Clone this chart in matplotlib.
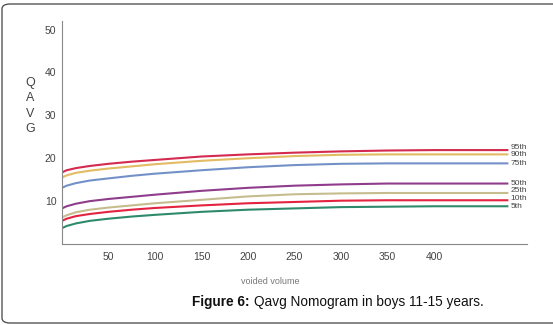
import matplotlib.pyplot as plt
from matplotlib.patches import FancyBboxPatch

volume = [0, 5, 15, 30, 50, 75, 100, 150, 200, 250, 300, 350, 400, 450, 480]

p95 = [16.7, 17.2, 17.7, 18.2, 18.7, 19.2, 19.6, 20.4, 20.9, 21.3, 21.6, 21.8, 21.9, 21.9, 21.9]
p90 = [15.5, 16.0, 16.6, 17.1, 17.6, 18.1, 18.6, 19.4, 20.0, 20.5, 20.8, 20.9, 20.9, 20.9, 20.9]
p75 = [13.1, 13.6, 14.2, 14.8, 15.3, 15.9, 16.4, 17.2, 17.9, 18.4, 18.7, 18.8, 18.8, 18.8, 18.8]
p50 = [8.3, 8.8, 9.4, 10.0, 10.5, 11.0, 11.5, 12.4, 13.1, 13.6, 13.9, 14.1, 14.1, 14.1, 14.1]
p25 = [6.2, 6.7, 7.4, 8.0, 8.5, 9.0, 9.5, 10.3, 11.1, 11.6, 11.8, 11.9, 11.9, 11.9, 11.9]
p10 = [5.4, 5.9, 6.5, 7.0, 7.5, 8.0, 8.4, 9.0, 9.5, 9.8, 10.1, 10.2, 10.2, 10.2, 10.2]
p5 = [3.7, 4.2, 4.8, 5.4, 5.9, 6.4, 6.8, 7.5, 8.0, 8.3, 8.6, 8.7, 8.8, 8.8, 8.8]

labels = ["95th", "90th", "75th", "50th", "25th", "10th", "5th"]
series = [p95, p90, p75, p50, p25, p10, p5]
colors = ["#d42a4f", "#e2bb62", "#7391c8", "#8f3c8c", "#c6bd8e", "#e3233f", "#2f8a6c"]

x_ticks = [50, 100, 150, 200, 250, 300, 350, 400]
y_ticks = [10, 20, 30, 40, 50]

plt.rcParams["font.family"] = ["Liberation Sans", "DejaVu Sans"]

fig = plt.figure(figsize=(5.53, 3.25), dpi=100)

# rounded frame around the whole figure
frame = FancyBboxPatch((2 / 553, 2 / 325), 560 / 553, 319 / 325,
                       boxstyle="round,pad=0,rounding_size=0.015",
                       transform=fig.transFigure, fill=False,
                       ec="#555555", lw=1.0, clip_on=False)
fig.patches.append(frame)

ax = fig.add_axes([62 / 553, 81 / 325, 465 / 553, 223 / 325])

for y, c in zip(series, colors):
    ax.plot(volume, y, color=c, lw=1.5, solid_capstyle="butt")

# end labels, nudged apart a little like in the original
nudge = [0.5, 0.0, -0.1, 0.1, 0.5, 0.3, -0.1]
for lab, y, d in zip(labels, series, nudge):
    ax.text(482, y[-1] + d, lab, fontsize=6, color="#444444",
            va="center", ha="left")

ax.set_xlim(0, 500)
ax.set_ylim(0, 52)
ax.set_xticks(x_ticks)
ax.set_yticks(y_ticks)
ax.tick_params(length=0, labelsize=7.5, labelcolor="#444444")
ax.tick_params(axis="x", pad=6)
ax.tick_params(axis="y", pad=4)

ax.spines["top"].set_visible(False)
ax.spines["right"].set_visible(False)
ax.spines["left"].set_color("#888888")
ax.spines["bottom"].set_color("#888888")

fig.text(30 / 553, 1 - 106 / 325, "Q\nA\nV\nG", ha="center", va="center",
         fontsize=9, color="#444444", linespacing=1.35)
fig.text(270 / 553, 1 - 282 / 325, "voided volume", ha="center", va="center",
         fontsize=6.5, color="#777777")

cap1 = fig.text(192 / 553, 1 - 302 / 325, "Figure 6:", ha="left", va="center",
                fontsize=9.8, fontweight="bold", color="#111111")
renderer = fig.canvas.get_renderer()
bb = cap1.get_window_extent(renderer).transformed(fig.transFigure.inverted())
fig.text(bb.x1 + 4 / 553, 1 - 302 / 325, "Qavg Nomogram in boys 11-15 years.",
         ha="left", va="center", fontsize=9.8, color="#111111")

fig.savefig("out.png", dpi=100)
